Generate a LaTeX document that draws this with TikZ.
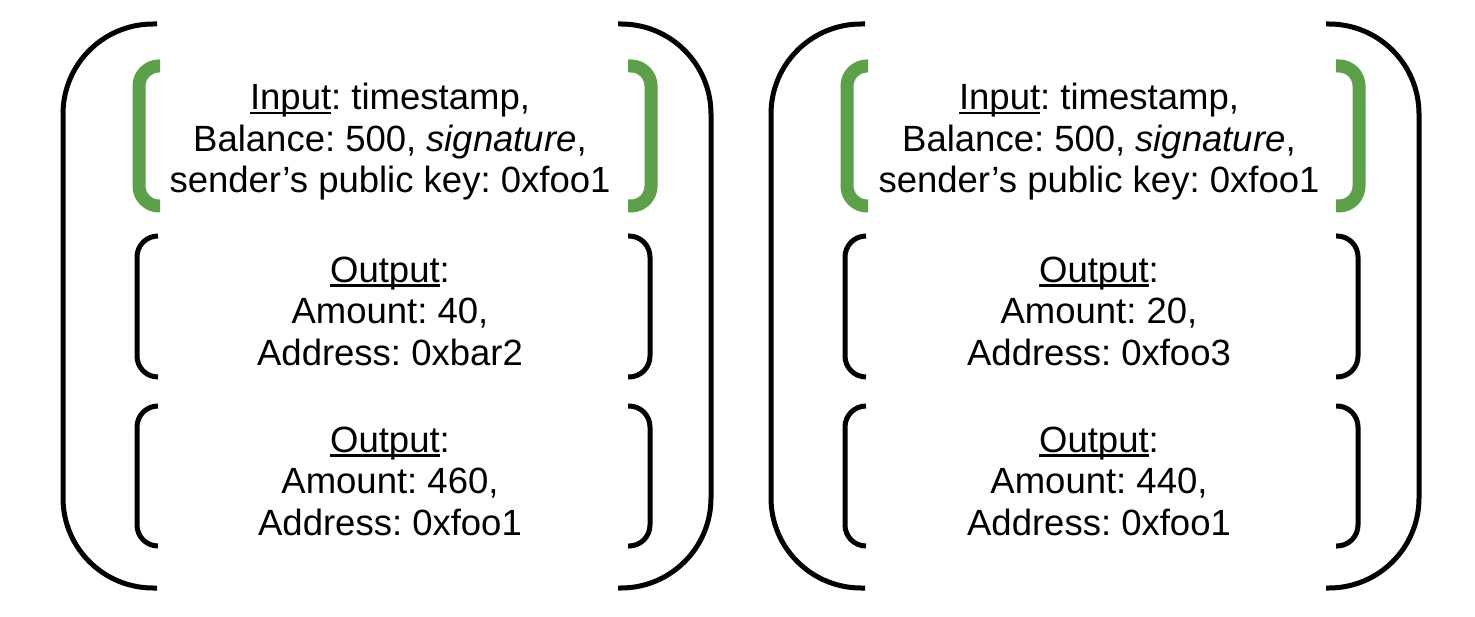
\documentclass[tikz,border=0pt]{standalone}
\usepackage{fontspec}
\setmainfont{Liberation Sans}
\frenchspacing
\definecolor{keyGreen}{RGB}{92,160,74}
\newcommand\wordLine[1]{\setbox0\hbox{#1}\rlap{\rule[-4.5pt]{\wd0}{2.5pt}}\box0}

\begin{document}
\begin{tikzpicture}
[x=1pt,y=-1pt,%
  outerDecorate/.style={-,line width=5pt,rounded corners=90pt},%
  innerDecorate/.style={-,line width=5pt,rounded corners=21pt},%
  inputDecorate/.style={-,line width=13pt,color=keyGreen,rounded corners=20pt},%
  textDecorate/.style={align=center,inner sep=0pt,font=\fontsize{36.5}{41.5}\selectfont}]
\useasboundingbox (0,0) rectangle (1475,617);
%% transaction texts
\foreach \side/\x/\amountA/\addressA/\amountB in {
  Left/390/40/0xbar2/460, Right/1099/20/0xfoo3/440}
{
  \node[textDecorate] (input\side) at (\x,142)
    {\wordLine{Input}: timestamp,\\Balance: 500, \textit{signature},\\sender’s public key: 0xfoo1};
  \node[textDecorate] (outputA\side) at (\x,311)
    {\wordLine{Output}:\\Amount: \amountA,\\Address: \addressA};
  \node[textDecorate] (outputB\side) at (\x,481)
    {\wordLine{Output}:\\Amount: \amountB,\\Address: 0xfoo1};
}
%% brackets round each transaction
\foreach \dx in {0,708}
{
  \draw[outerDecorate] (157+\dx,24) -- (63+\dx,24) -- (63+\dx,588) -- (157+\dx,588);
  \draw[outerDecorate] (618+\dx,24) -- (711+\dx,24) -- (711+\dx,588) -- (618+\dx,588);
  \draw[inputDecorate] (160+\dx,66) -- (139+\dx,66) -- (139+\dx,206) -- (160+\dx,206);
  \draw[inputDecorate] (628+\dx,66) -- (651+\dx,66) -- (651+\dx,206) -- (628+\dx,206);
  \foreach \ytop/\ybot in {236/377, 406/546}
  {
    \draw[innerDecorate] (158+\dx,\ytop) -- (137+\dx,\ytop) -- (137+\dx,\ybot) -- (158+\dx,\ybot);
    \draw[innerDecorate] (628+\dx,\ytop) -- (650+\dx,\ytop) -- (650+\dx,\ybot) -- (628+\dx,\ybot);
  }
}
\end{tikzpicture}
\end{document}
